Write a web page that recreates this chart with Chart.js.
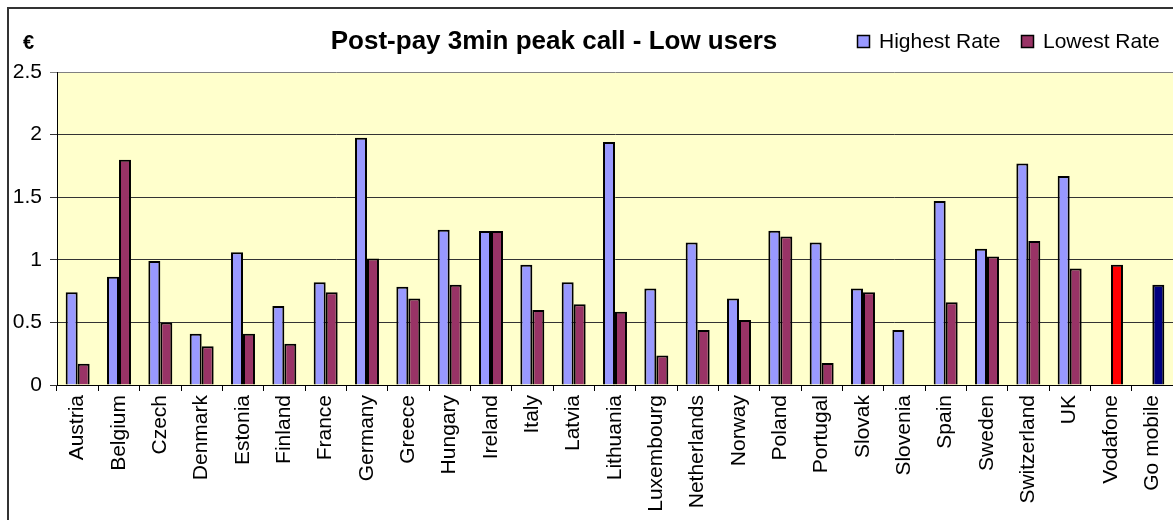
<!DOCTYPE html>
<html>
<head>
<meta charset="utf-8">
<script src="https://cdn.jsdelivr.net/npm/chart.js@4"></script>
<style>
  html, body { margin: 0; padding: 0; background: #fff; }
  #wrap { width: 1173px; height: 520px; }
</style>
</head>
<body>
<div id="wrap"><canvas id="c" width="1173" height="520"></canvas></div>
<script>
// values (EUR)
const categories = ['Austria', 'Belgium', 'Czech', 'Denmark', 'Estonia', 'Finland', 'France', 'Germany',
  'Greece', 'Hungary', 'Ireland', 'Italy', 'Latvia', 'Lithuania', 'Luxembourg', 'Netherlands', 'Norway',
  'Poland', 'Portugal', 'Slovak', 'Slovenia', 'Spain', 'Sweden', 'Switzerland', 'UK', 'Vodafone', 'Go mobile'];
const highestRate = [0.74, 0.865, 0.99, 0.41, 1.06, 0.63, 0.82, 1.975, 0.785, 1.24, 1.23, 0.96, 0.82, 1.94,
  0.77, 1.138, 0.69, 1.232, 1.138, 0.77, 0.44, 1.47, 1.088, 1.77, 1.67, null, null];
const lowestRate = [0.17, 1.80, 0.50, 0.31, 0.41, 0.33, 0.74, 1.01, 0.69, 0.80, 1.23, 0.60, 0.645, 0.585,
  0.235, 0.44, 0.52, 1.186, 0.175, 0.74, null, 0.66, 1.026, 1.15, 0.93, 0.96, 0.80];
const yTicks = [0, 0.5, 1, 1.5, 2, 2.5];

const chartTitle = 'Post-pay 3min peak call - Low users';
const unitLabel = '€';

// operators get their own bar colour
const operatorColors = { 'Vodafone': '#FF0000', 'Go mobile': '#000080' };
const FONT = '"Liberation Sans", Arial, sans-serif';

const framePlugin = {
  id: 'frame',
  beforeDraw(chart) {
    const { ctx, chartArea: a } = chart;
    ctx.save();
    ctx.fillStyle = '#fff';
    ctx.fillRect(0, 0, chart.width, chart.height);
    ctx.fillStyle = '#FFFFCC';
    ctx.fillRect(a.left, a.top, a.right - a.left, a.bottom - a.top);
    ctx.strokeStyle = '#333';
    ctx.lineWidth = 2;
    ctx.strokeRect(8, 8, chart.width + 20, chart.height + 20);
    ctx.restore();
  },
  afterDraw(chart) {
    const ctx = chart.ctx;
    ctx.save();
    ctx.fillStyle = '#000';
    ctx.textBaseline = 'alphabetic';
    ctx.font = 'bold 20px ' + FONT;
    ctx.textAlign = 'left';
    ctx.fillText(unitLabel, 23, 49);
    ctx.font = 'bold 26px ' + FONT;
    ctx.textAlign = 'center';
    ctx.fillText(chartTitle, 554, 49);

    // legend
    ctx.font = '21px ' + FONT;
    ctx.textAlign = 'left';
    const starts = [857, 1021];
    chart.data.datasets.forEach((ds, i) => {
      const x = starts[i];
      ctx.fillStyle = typeof ds.backgroundColor === 'string' ? ds.backgroundColor : ds.legendColor;
      ctx.fillRect(x, 35, 13, 13);
      ctx.strokeStyle = '#000';
      ctx.lineWidth = 1.5;
      ctx.strokeRect(x + 0.5, 35.5, 12, 12);
      ctx.fillStyle = '#000';
      ctx.fillText(ds.label, x + 22, 48);
    });
    ctx.restore();
  }
};

new Chart(document.getElementById('c'), {
  type: 'bar',
  data: {
    labels: categories,
    datasets: [
      {
        label: 'Highest Rate',
        data: highestRate,
        backgroundColor: '#9999FF',
        borderColor: '#000',
        borderWidth: 2,
        categoryPercentage: 0.58,
        barPercentage: 1
      },
      {
        label: 'Lowest Rate',
        data: lowestRate,
        legendColor: '#993366',
        backgroundColor: c => operatorColors[categories[c.dataIndex]] || '#993366',
        borderColor: '#000',
        borderWidth: 2,
        categoryPercentage: 0.58,
        barPercentage: 1
      }
    ]
  },
  options: {
    responsive: false,
    animation: false,
    devicePixelRatio: 1,
    layout: { padding: { top: 72, left: 0, right: 0, bottom: 0 } },
    plugins: {
      legend: { display: false },
      title: { display: false },
      tooltip: { enabled: false }
    },
    scales: {
      x: {
        grid: { display: true, drawOnChartArea: false, offset: true, tickLength: 6, color: '#000' },
        border: { color: '#000' },
        ticks: {
          maxRotation: 90, minRotation: 90, autoSkip: false, padding: 4,
          color: '#000', font: { family: FONT, size: 21 }
        },
        afterFit: s => { s.height = 135; s.paddingLeft = 0; s.paddingRight = 0; }
      },
      y: {
        min: 0,
        max: 2.5,
        grid: { color: c => (c.tick && c.tick.value === 2.5) ? '#808080' : '#333', tickLength: 7 },
        border: { color: '#000' },
        ticks: { padding: 8, color: '#000', font: { family: FONT, size: 21 }, callback: v => String(v) },
        afterBuildTicks: s => { s.ticks = yTicks.map(v => ({ value: v })); },
        afterFit: s => { s.width = 57; }
      }
    }
  },
  plugins: [framePlugin]
});
</script>
</body>
</html>
